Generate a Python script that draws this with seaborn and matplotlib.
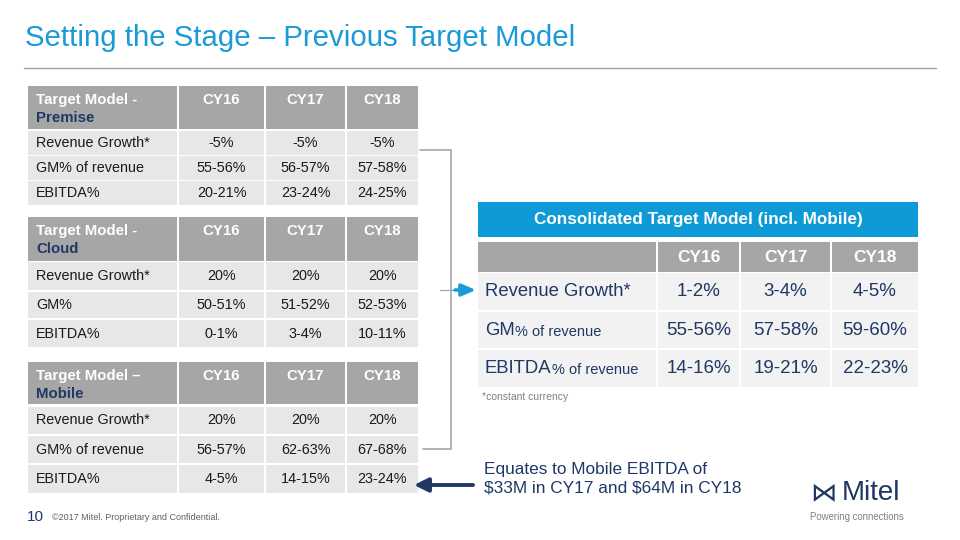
import matplotlib
matplotlib.use("Agg")
import matplotlib.pyplot as plt
import seaborn as sns
from matplotlib.patches import Rectangle

# ---- data ----
years = ["CY16", "CY17", "CY18"]

premise_metrics = ["Revenue Growth*", "GM% of revenue", "EBITDA%"]
premise_values = [["-5%", "-5%", "-5%"],
                  ["55-56%", "56-57%", "57-58%"],
                  ["20-21%", "23-24%", "24-25%"]]

cloud_metrics = ["Revenue Growth*", "GM%", "EBITDA%"]
cloud_values = [["20%", "20%", "20%"],
                ["50-51%", "51-52%", "52-53%"],
                ["0-1%", "3-4%", "10-11%"]]

mobile_metrics = ["Revenue Growth*", "GM% of revenue", "EBITDA%"]
mobile_values = [["20%", "20%", "20%"],
                 ["56-57%", "62-63%", "67-68%"],
                 ["4-5%", "14-15%", "23-24%"]]

cons_metrics = [("Revenue Growth*", ""), ("GM", "% of revenue"), ("EBITDA", "% of revenue")]
cons_values = [["1-2%", "3-4%", "4-5%"],
               ["55-56%", "57-58%", "59-60%"],
               ["14-16%", "19-21%", "22-23%"]]

BLUE = "#1a9ad6"
NAVY = "#1f3864"
HEAD = "#a6a6a6"
CELL = "#e7e7e7"
CELL2 = "#f2f2f2"
TXT = "#1a1a1a"

sns.set_theme(style="white")
plt.rcParams['font.family'] = ['Liberation Sans', 'DejaVu Sans']

fig = plt.figure(figsize=(9.6, 5.4), dpi=100)
ax = fig.add_axes([0, 0, 1, 1])
ax.set_xlim(0, 960)
ax.set_ylim(540, 0)
ax.axis("off")


def cell(x0, x1, y0, y1, color):
    ax.add_patch(Rectangle((x0, y0), x1 - x0, y1 - y0, facecolor=color, edgecolor="none"))


def left_table(top_label, segment, metrics, values, header, rows):
    cols = [(28, 177), (179, 264), (266, 345), (347, 418)]
    h0, h1 = header
    for c0, c1 in cols:
        cell(c0, c1, h0, h1, HEAD)
    ax.text(36, h0 + 14, top_label, color="white", fontsize=10.8, fontweight="bold", va="center")
    ax.text(36, h0 + 32, segment, color=NAVY, fontsize=10.8, fontweight="bold", va="center")
    for (c0, c1), yr in zip(cols[1:], years):
        ax.text((c0 + c1) / 2, h0 + 14, yr, color="white", fontsize=10.8, fontweight="bold",
                ha="center", va="center")
    for (r0, r1), name, vals in zip(rows, metrics, values):
        for c0, c1 in cols:
            cell(c0, c1, r0, r1, CELL)
        ym = (r0 + r1) / 2
        ax.text(36, ym, name, color=TXT, fontsize=10.4, va="center")
        for (c0, c1), v in zip(cols[1:], vals):
            ax.text((c0 + c1) / 2, ym, v, color=TXT, fontsize=10.4, ha="center", va="center")


# title
ax.text(25, 38, "Setting the Stage \u2013 Previous Target Model", color=BLUE, fontsize=21.2, va="center")
ax.plot([24, 936], [68, 68], color="#a0a0a0", lw=1)

left_table("Target Model -", "Premise", premise_metrics, premise_values,
           (86, 129), [(131, 155), (156, 180), (181, 205)])
left_table("Target Model -", "Cloud", cloud_metrics, cloud_values,
           (217, 261), [(262, 290), (292, 318), (320, 347)])
left_table("Target Model \u2013", "Mobile", mobile_metrics, mobile_values,
           (362, 404), [(407, 434), (436, 463), (465, 493)])

# consolidated table
cell(478, 918, 202, 237, "#0e9ad7")
ax.text(698, 219.5, "Consolidated Target Model (incl. Mobile)", color="white", fontsize=12.3,
        fontweight="bold", ha="center", va="center")
ccols = [(478, 656), (658, 739), (741, 830), (832, 918)]
for c0, c1 in ccols:
    cell(c0, c1, 242, 272, HEAD)
for (c0, c1), yr in zip(ccols[1:], years):
    ax.text((c0 + c1) / 2, 257, yr, color="white", fontsize=12.5, fontweight="bold",
            ha="center", va="center")
crows = [(273, 310), (312, 348), (350, 387)]
for (r0, r1), (big, small), vals in zip(crows, cons_metrics, cons_values):
    for c0, c1 in ccols:
        cell(c0, c1, r0, r1, CELL2)
    yb = (r0 + r1) / 2 + 4.8
    t = ax.text(485, yb, big, color=NAVY, fontsize=13.3, va="baseline")
    if small:
        ax.annotate(small, xy=(1, 0), xycoords=t, xytext=(0, 0), textcoords="offset points",
                    color=NAVY, fontsize=10.5, va="bottom")
    for (c0, c1), v in zip(ccols[1:], vals):
        ax.text((c0 + c1) / 2, yb, v, color=NAVY, fontsize=13.5, ha="center", va="baseline")
ax.text(482, 397, "*constant currency", color="#808080", fontsize=7.5, va="center")

# bracket and arrows
ax.plot([420, 451, 451, 423], [150, 150, 449, 449], color="#a6a6a6", lw=1.2)
ax.plot([440, 458], [290, 290], color="#7fa7c9", lw=0.8)
ax.annotate("", xy=(476, 290), xytext=(455, 290),
            arrowprops=dict(arrowstyle="-|>,head_length=0.7,head_width=0.3",
                            color=BLUE, lw=2.5, shrinkA=0, shrinkB=0))
ax.annotate("", xy=(414, 485), xytext=(473, 485),
            arrowprops=dict(arrowstyle="-|>,head_length=0.7,head_width=0.35",
                            color=NAVY, lw=2.8, shrinkA=0, shrinkB=0))
ax.text(484, 479, "Equates to Mobile EBITDA of\n\\$33M in CY17 and \\$64M in CY18", color=NAVY,
        fontsize=12.4, va="center", linespacing=1.32)

# footer
ax.text(27, 517, "10", color=NAVY, fontsize=11, va="center")
ax.text(52, 517, "\u00a92017 Mitel. Proprietary and Confidential.", color="#606060",
        fontsize=6.5, va="center")

# logo
ax.text(823, 493, "\u22c8", color=NAVY, fontsize=19, ha="center", va="center", family="DejaVu Sans")
ax.text(842, 493, "Mitel", color=NAVY, fontsize=20, va="center")
ax.text(810, 517, "Powering connections", color="#808080", fontsize=6.9, va="center")

fig.savefig("out.png", dpi=100, facecolor="white")
